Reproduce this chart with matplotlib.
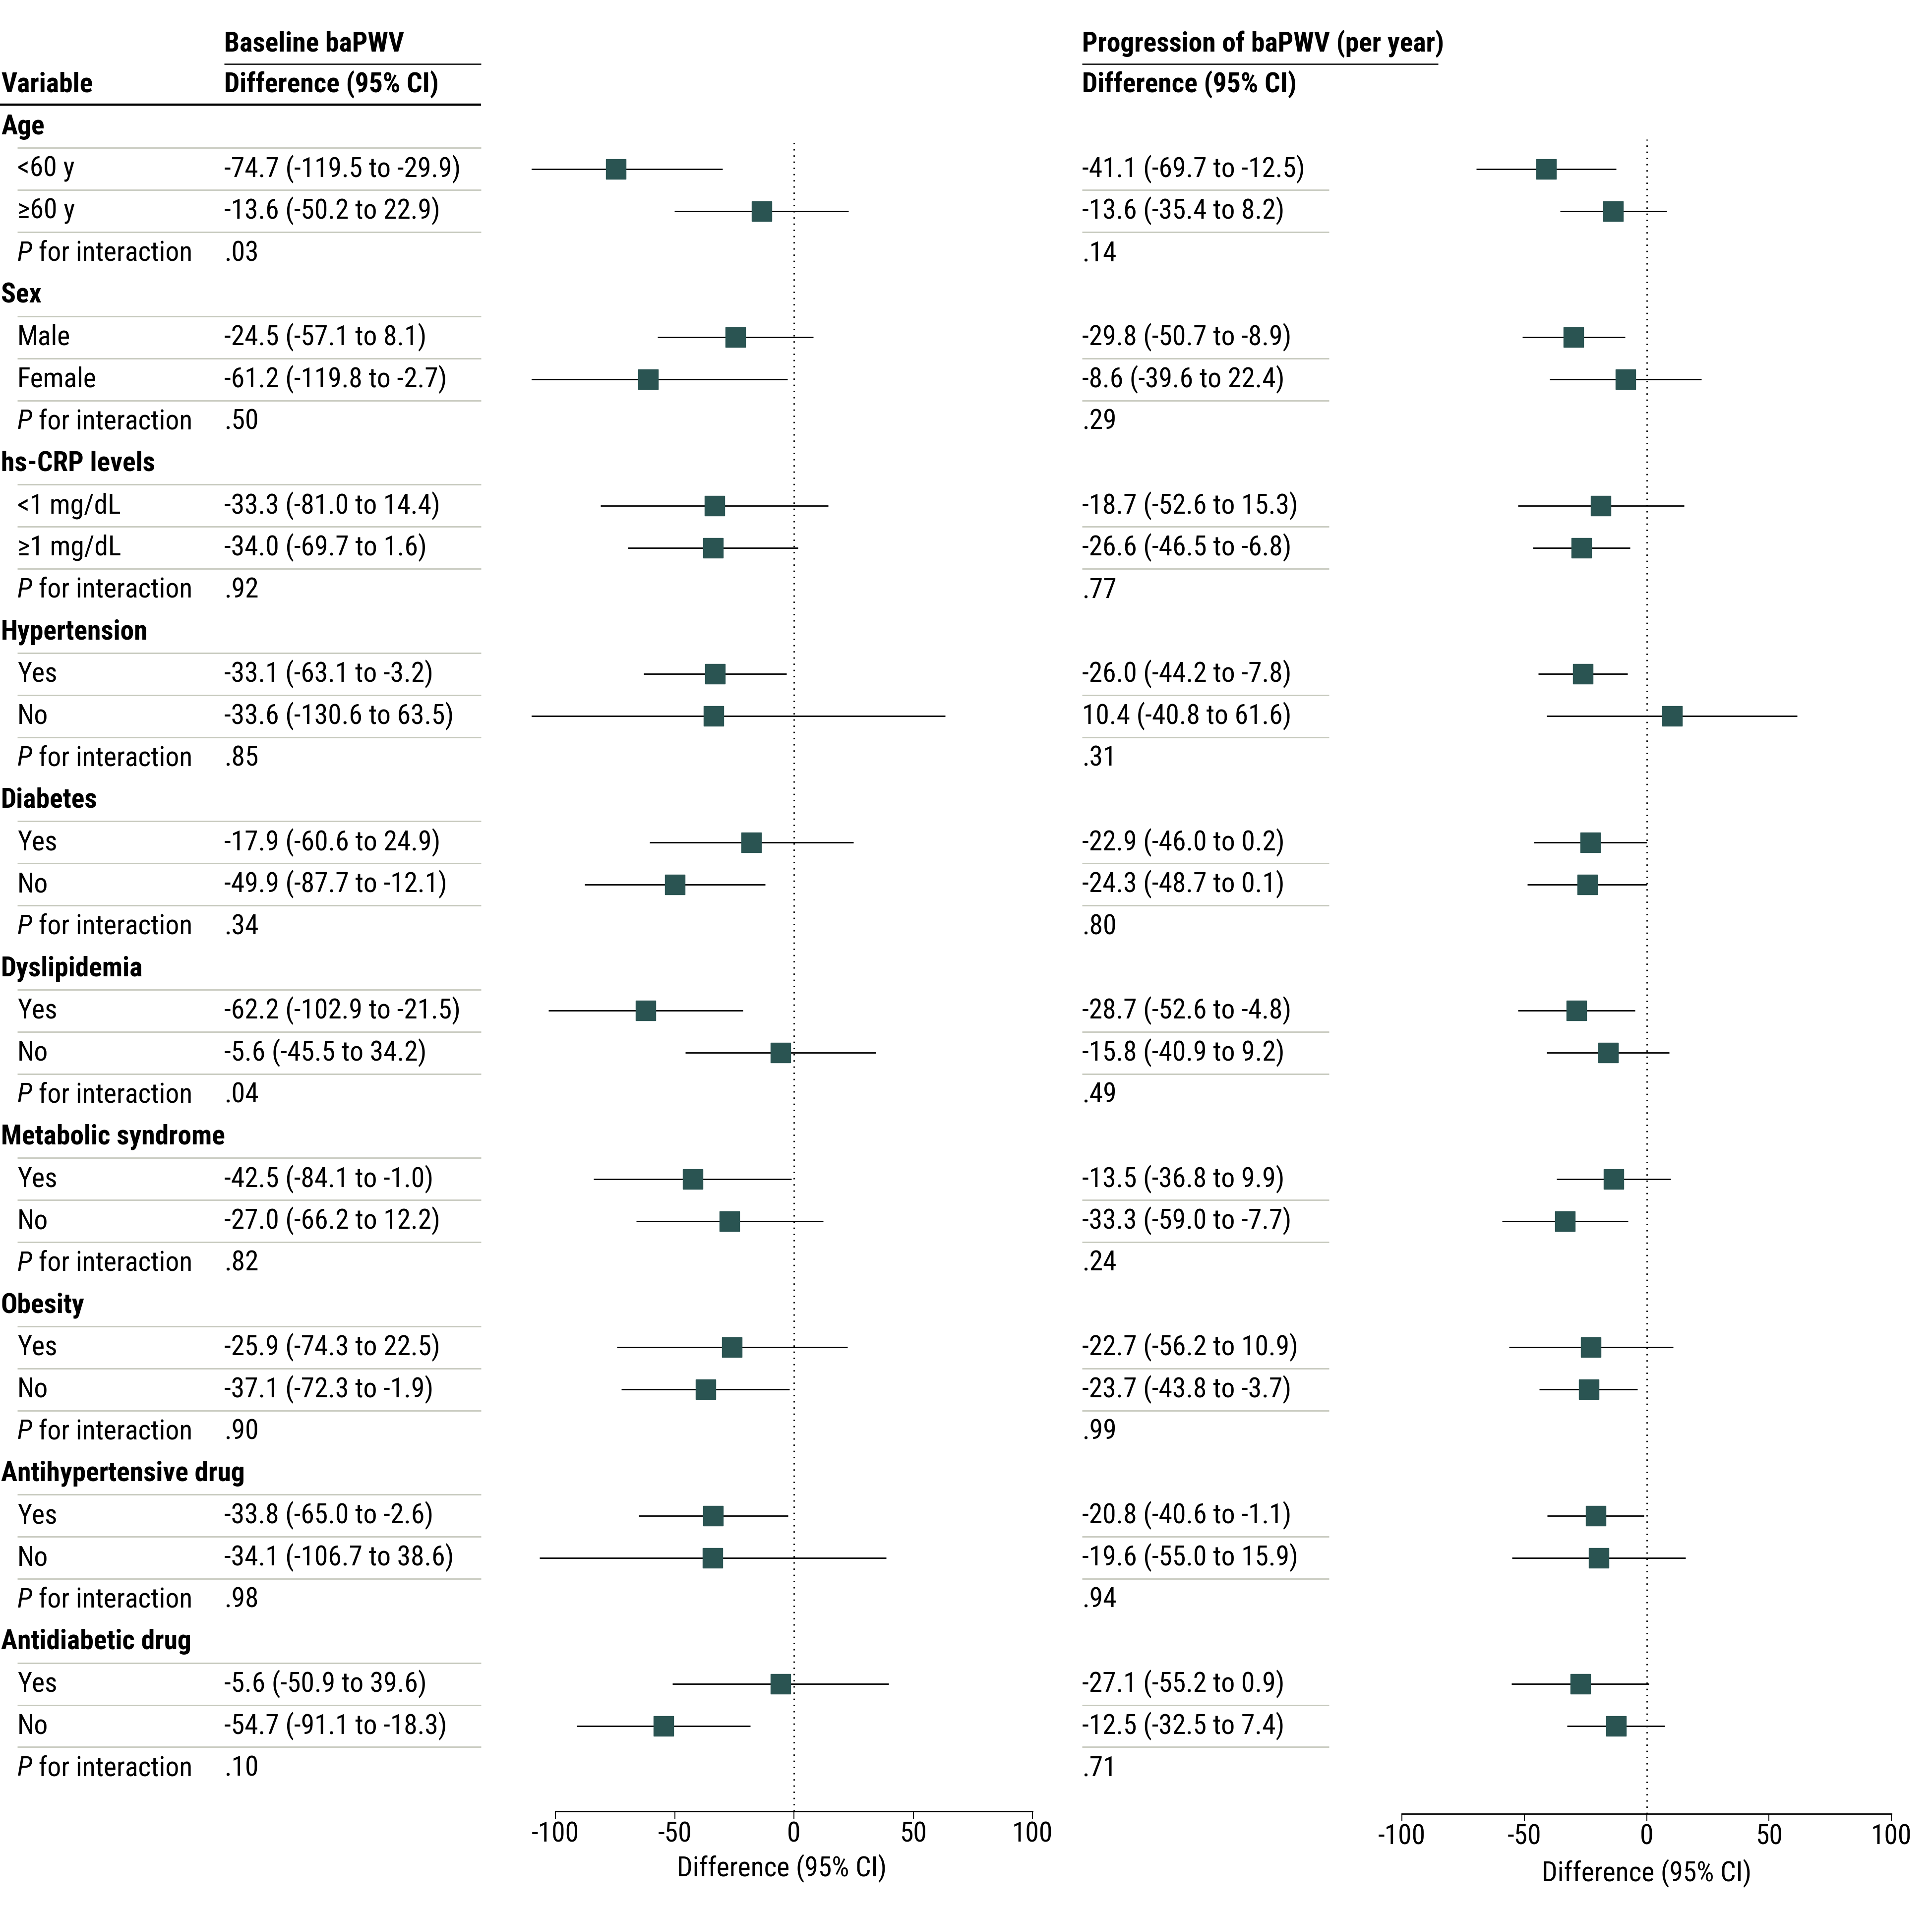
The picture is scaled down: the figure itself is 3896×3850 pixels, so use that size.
import matplotlib
matplotlib.use('Agg')
import matplotlib.pyplot as plt
from matplotlib import font_manager as fm

names = {f.name for f in fm.fontManager.ttflist}
FAM, STRETCH = 'DejaVu Sans', 'condensed'
for cand in ['Roboto Condensed', 'Open Sans Condensed', 'Liberation Sans Narrow']:
    if cand in names:
        FAM, STRETCH = cand, 'normal'
        break
plt.rcParams['font.family'] = FAM
plt.rcParams['font.stretch'] = STRETCH
plt.rcParams['axes.unicode_minus'] = False

# ---------------- data ----------------
groups = ['Age', 'Sex', 'hs-CRP levels', 'Hypertension', 'Diabetes', 'Dyslipidemia',
          'Metabolic syndrome', 'Obesity', 'Antihypertensive drug', 'Antidiabetic drug']
subgroups = [['<60 y', '≥60 y'], ['Male', 'Female'], ['<1 mg/dL', '≥1 mg/dL'],
             ['Yes', 'No'], ['Yes', 'No'], ['Yes', 'No'], ['Yes', 'No'],
             ['Yes', 'No'], ['Yes', 'No'], ['Yes', 'No']]

base_est = [-74.7, -13.6, -24.5, -61.2, -33.3, -34.0, -33.1, -33.6, -17.9, -49.9,
            -62.2, -5.6, -42.5, -27.0, -25.9, -37.1, -33.8, -34.1, -5.6, -54.7]
base_lo = [-119.5, -50.2, -57.1, -119.8, -81.0, -69.7, -63.1, -130.6, -60.6, -87.7,
           -102.9, -45.5, -84.1, -66.2, -74.3, -72.3, -65.0, -106.7, -50.9, -91.1]
base_hi = [-29.9, 22.9, 8.1, -2.7, 14.4, 1.6, -3.2, 63.5, 24.9, -12.1,
           -21.5, 34.2, -1.0, 12.2, 22.5, -1.9, -2.6, 38.6, 39.6, -18.3]
base_p = ['.03', '.50', '.92', '.85', '.34', '.04', '.82', '.90', '.98', '.10']

prog_est = [-41.1, -13.6, -29.8, -8.6, -18.7, -26.6, -26.0, 10.4, -22.9, -24.3,
            -28.7, -15.8, -13.5, -33.3, -22.7, -23.7, -20.8, -19.6, -27.1, -12.5]
prog_lo = [-69.7, -35.4, -50.7, -39.6, -52.6, -46.5, -44.2, -40.8, -46.0, -48.7,
           -52.6, -40.9, -36.8, -59.0, -56.2, -43.8, -40.6, -55.0, -55.2, -32.5]
prog_hi = [-12.5, 8.2, -8.9, 22.4, 15.3, -6.8, -7.8, 61.6, 0.2, 0.1,
           -4.8, 9.2, 9.9, -7.7, 10.9, -3.7, -1.1, 15.9, 0.9, 7.4]
prog_p = ['.14', '.29', '.77', '.31', '.80', '.49', '.24', '.99', '.94', '.71']

xticks = [-100, -50, 0, 50, 100]

# ---------------- layout ----------------
W, H = 3896, 3850
DPI = 100
FS = 40
SQ = '#2a5452'
GRAY = '#c6c9bd'
ROW0, DY = 256, 84.87


def row_px(r):
    return ROW0 + DY * r


def fmt(e, l, h):
    return f'{e:.1f} ({l:.1f} to {h:.1f})'


fig = plt.figure(figsize=(W / DPI, H / DPI), dpi=DPI)
tab = fig.add_axes([0, 0, 1, 1])
tab.set_xlim(0, W)
tab.set_ylim(H, 0)
tab.axis('off')

X_VAR, X_SUB, X_VAL, X_VAL2 = 2, 35, 452, 2182
L_END, R_END = 970, 2680

# headers
tab.text(X_VAL, 89, 'Baseline baPWV', fontsize=FS, weight='bold', va='center')
tab.plot([X_VAL, L_END], [129, 129], color='black', lw=1.8, solid_capstyle='butt')
tab.text(X_VAR, 171, 'Variable', fontsize=FS, weight='bold', va='center')
tab.text(X_VAL, 171, 'Difference (95% CI)', fontsize=FS, weight='bold', va='center')
tab.plot([0, L_END], [211, 211], color='black', lw=3.2, solid_capstyle='butt')
tab.text(X_VAL2, 89, 'Progression of baPWV (per year)', fontsize=FS, weight='bold', va='center')
tab.plot([X_VAL2, 2900], [129, 129], color='black', lw=1.8, solid_capstyle='butt')
tab.text(X_VAL2, 171, 'Difference (95% CI)', fontsize=FS, weight='bold', va='center')

rows_y = []
for g, name in enumerate(groups):
    r = 4 * g
    tab.text(X_VAR, row_px(r), name, fontsize=FS, weight='bold', va='center')
    for k in range(2):
        i = 2 * g + k
        y = row_px(r + 1 + k)
        rows_y.append(r + 1 + k)
        tab.text(X_SUB, y, subgroups[g][k], fontsize=FS, va='center')
        tab.text(X_VAL, y, fmt(base_est[i], base_lo[i], base_hi[i]), fontsize=FS, va='center')
        tab.text(X_VAL2, y, fmt(prog_est[i], prog_lo[i], prog_hi[i]), fontsize=FS, va='center')
    yp = row_px(r + 3)
    pt = tab.text(X_SUB, yp, 'P', fontsize=FS, style='italic', va='center')
    tab.annotate(' for interaction', xy=(1, 0), xycoords=pt, fontsize=FS,
                 va='bottom', ha='left')
    tab.text(X_VAL, yp, base_p[g], fontsize=FS, va='center')
    tab.text(X_VAL2, yp, prog_p[g], fontsize=FS, va='center')
    for b in (0.5, 1.5, 2.5):
        yy = row_px(r + b)
        tab.plot([X_SUB, L_END], [yy, yy], color=GRAY, lw=2.0, solid_capstyle='butt')
    for b in (1.5, 2.5):
        yy = row_px(r + b)
        tab.plot([X_VAL2, R_END], [yy, yy], color=GRAY, lw=2.0, solid_capstyle='butt')


def forest(left_px, right_px, xlim, spine_px, est, lo, hi, labelpad):
    top_px = 190
    ax = fig.add_axes([left_px / W, 1 - spine_px / H, (right_px - left_px) / W,
                       (spine_px - top_px) / H])
    ax.set_xlim(*xlim)
    ax.set_ylim((spine_px - ROW0) / DY, (top_px - ROW0) / DY)
    ax.patch.set_alpha(0)
    for s in ('left', 'right', 'top'):
        ax.spines[s].set_visible(False)
    ax.spines['bottom'].set_bounds(-100, 100)
    ax.spines['bottom'].set_linewidth(2.0)
    ax.set_yticks([])
    ax.set_xticks(xticks)
    ax.set_xticklabels([str(t) for t in xticks])
    ax.tick_params(axis='x', length=11, width=1.3, pad=3, labelsize=FS)
    ax.axvline(0, ymin=0, ymax=1 - (0.3 - (top_px - ROW0) / DY) / ((spine_px - top_px) / DY),
               color='black', lw=2.0, ls=(0, (1, 3.5)))
    ax.hlines(rows_y, lo, hi, color='black', lw=2.0, zorder=2)
    ax.plot(est, rows_y, ls='none', marker='s', ms=29, color=SQ, mec=SQ, zorder=3)
    ax.set_xlabel('Difference (95% CI)', fontsize=FS, labelpad=labelpad)
    return ax


forest(1072, 2082, (-110, 100), 3653, base_est, base_lo, base_hi, 10)
forest(2827, 3814, (-100, 100), 3658, prog_est, prog_lo, prog_hi, 14)

fig.savefig('out.png', dpi=DPI)
